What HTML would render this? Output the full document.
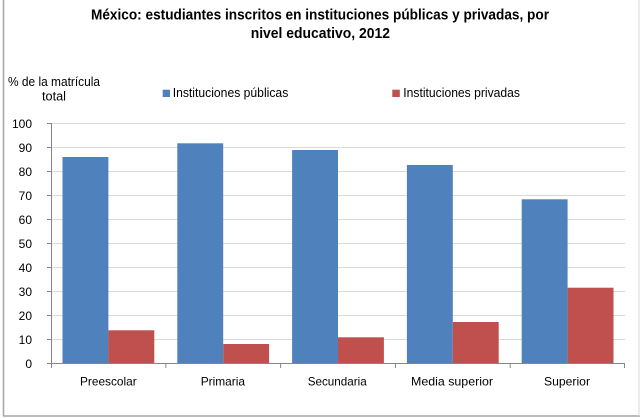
<!DOCTYPE html>
<html>
<head>
<meta charset="utf-8">
<style>
  html,body{margin:0;padding:0;background:#fff;}
  svg{display:block;}
  text{font-family:"Liberation Sans",Arial,sans-serif;fill:#000;}
</style>
</head>
<body>
<svg width="640" height="418" viewBox="0 0 640 418" xmlns="http://www.w3.org/2000/svg">
  <rect x="0" y="0" width="640" height="418" fill="#fff"/>
  <!-- outer border -->
  <line x1="3.5" y1="0" x2="3.5" y2="416" stroke="#a6a6a6" stroke-width="1.5"/>
  <line x1="3" y1="416" x2="640" y2="416" stroke="#a6a6a6" stroke-width="1.5"/>
  <line x1="639" y1="0" x2="639" y2="416" stroke="#d9d9d9" stroke-width="1"/>

  <!-- title -->
  <text x="91" y="19.5" font-size="14.5" font-weight="bold" textLength="458" lengthAdjust="spacingAndGlyphs">México: estudiantes inscritos en instituciones públicas y privadas, por</text>
  <text x="250.7" y="38" font-size="14.5" font-weight="bold" textLength="139.3" lengthAdjust="spacingAndGlyphs">nivel educativo, 2012</text>

  <!-- y axis title -->
  <text x="8" y="86" font-size="12.5" textLength="92" lengthAdjust="spacingAndGlyphs">% de la matrícula</text>
  <text x="42" y="100.5" font-size="12.5" textLength="24" lengthAdjust="spacingAndGlyphs">total</text>

  <!-- legend -->
  <rect x="162.7" y="89.7" width="7.3" height="7.3" fill="#4f81bd"/>
  <text x="172.7" y="97" font-size="12.5" textLength="115.6" lengthAdjust="spacingAndGlyphs">Instituciones públicas</text>
  <rect x="392.3" y="89.7" width="7.5" height="7.3" fill="#c0504d"/>
  <text x="403.3" y="97" font-size="12.5" textLength="116.7" lengthAdjust="spacingAndGlyphs">Instituciones privadas</text>

  <!-- gridlines -->
  <g stroke="#d9d9d9" stroke-width="1">
    <line x1="51" y1="123.5" x2="625" y2="123.5"/>
    <line x1="51" y1="147.5" x2="625" y2="147.5"/>
    <line x1="51" y1="171.5" x2="625" y2="171.5"/>
    <line x1="51" y1="195.5" x2="625" y2="195.5"/>
    <line x1="51" y1="219.5" x2="625" y2="219.5"/>
    <line x1="51" y1="243.5" x2="625" y2="243.5"/>
    <line x1="51" y1="267.5" x2="625" y2="267.5"/>
    <line x1="51" y1="291.5" x2="625" y2="291.5"/>
    <line x1="51" y1="315.5" x2="625" y2="315.5"/>
    <line x1="51" y1="339.5" x2="625" y2="339.5"/>
  </g>

  <!-- y tick labels -->
  <g font-size="12" text-anchor="end">
    <text x="32" y="127.8">100</text>
    <text x="32" y="151.8">90</text>
    <text x="32" y="175.8">80</text>
    <text x="32" y="199.8">70</text>
    <text x="32" y="223.8">60</text>
    <text x="32" y="247.8">50</text>
    <text x="32" y="271.8">40</text>
    <text x="32" y="295.8">30</text>
    <text x="32" y="319.8">20</text>
    <text x="32" y="343.8">10</text>
    <text x="32" y="367.8">0</text>
  </g>

  <!-- bars -->
  <g fill="#4f81bd">
    <rect x="62.5" y="157" width="45.9" height="206.5"/>
    <rect x="177.3" y="143.3" width="45.9" height="220.2"/>
    <rect x="292.1" y="150" width="45.9" height="213.5"/>
    <rect x="406.9" y="165" width="45.9" height="198.5"/>
    <rect x="521.7" y="199.3" width="45.9" height="164.2"/>
  </g>
  <g fill="#c0504d">
    <rect x="108.4" y="330.3" width="45.9" height="33.2"/>
    <rect x="223.2" y="344" width="45.9" height="19.5"/>
    <rect x="338" y="337.3" width="45.9" height="26.2"/>
    <rect x="452.8" y="322" width="45.9" height="41.5"/>
    <rect x="567.6" y="287.7" width="45.9" height="75.8"/>
  </g>

  <!-- axes -->
  <g stroke="#868686" stroke-width="1">
    <line x1="51.5" y1="123" x2="51.5" y2="364"/>
    <line x1="51" y1="363.5" x2="625" y2="363.5"/>
    <line x1="47" y1="123.5" x2="51" y2="123.5"/>
    <line x1="47" y1="147.5" x2="51" y2="147.5"/>
    <line x1="47" y1="171.5" x2="51" y2="171.5"/>
    <line x1="47" y1="195.5" x2="51" y2="195.5"/>
    <line x1="47" y1="219.5" x2="51" y2="219.5"/>
    <line x1="47" y1="243.5" x2="51" y2="243.5"/>
    <line x1="47" y1="267.5" x2="51" y2="267.5"/>
    <line x1="47" y1="291.5" x2="51" y2="291.5"/>
    <line x1="47" y1="315.5" x2="51" y2="315.5"/>
    <line x1="47" y1="339.5" x2="51" y2="339.5"/>
    <line x1="47" y1="363.5" x2="51" y2="363.5"/>
    <line x1="51.5" y1="363.5" x2="51.5" y2="368"/>
    <line x1="165.8" y1="363.5" x2="165.8" y2="368"/>
    <line x1="280.6" y1="363.5" x2="280.6" y2="368"/>
    <line x1="395.4" y1="363.5" x2="395.4" y2="368"/>
    <line x1="510.2" y1="363.5" x2="510.2" y2="368"/>
    <line x1="624.5" y1="363.5" x2="624.5" y2="368"/>
  </g>

  <!-- category labels -->
  <g font-size="12">
    <text x="80" y="385.7" textLength="56.7" lengthAdjust="spacingAndGlyphs">Preescolar</text>
    <text x="200.7" y="385.7" textLength="44.3" lengthAdjust="spacingAndGlyphs">Primaria</text>
    <text x="307.7" y="385.7" textLength="59" lengthAdjust="spacingAndGlyphs">Secundaria</text>
    <text x="411" y="385.7" textLength="82" lengthAdjust="spacingAndGlyphs">Media superior</text>
    <text x="544" y="385.7" textLength="46" lengthAdjust="spacingAndGlyphs">Superior</text>
  </g>
</svg>
</body>
</html>
